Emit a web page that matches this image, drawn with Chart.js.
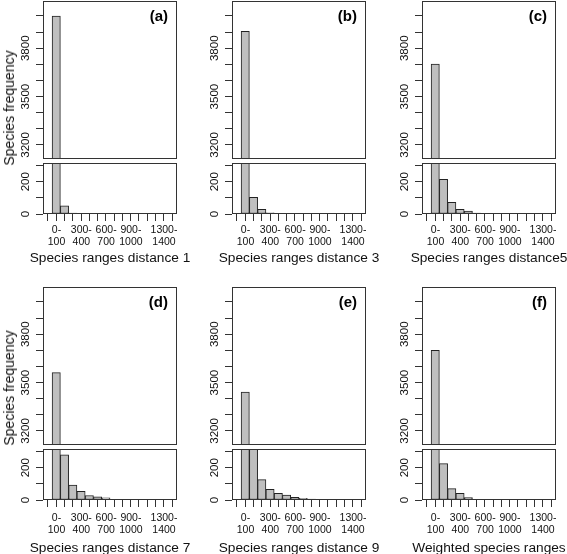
<!DOCTYPE html>
<html>
<head>
<meta charset="utf-8">
<script src="https://cdn.jsdelivr.net/npm/chart.js@4.4.1/dist/chart.umd.min.js"></script>
<style>
  body { margin: 0; background: #fff; width: 567px; height: 554px; position: relative; overflow: hidden;
         font-family: "Liberation Sans", Arial, sans-serif; color: #111; }
  canvas { position: absolute; }
  .ytitle { position: absolute; font-size: 14px; white-space: nowrap;
            transform: translate(-50%, -50%) rotate(-90deg); }
  .xtitle { position: absolute; font-size: 13.7px; white-space: nowrap; transform: translate(-50%, -50%); }
</style>
</head>
<body>
<script>
// histogram bins (width 100), only some bins get a label
const binMids = [50, 150, 250, 350, 450, 550, 650, 750, 850, 950, 1050, 1150, 1250, 1350];
const binEdges = [0, 100, 200, 300, 400, 500, 600, 700, 800, 900, 1000, 1100, 1200, 1300, 1400];
const binLabels = ['0-100', '100-200', '200-300', '300-400', '400-500', '500-600', '600-700',
  '700-800', '800-900', '900-1000', '1000-1100', '1100-1200', '1200-1300', '1300-1400'];
const shownLabels = ['0-100', '300-400', '600-700', '900-1000', '1300-1400'];

// broken y axis: upper and lower part
const upperTicks = [3200, 3300, 3400, 3500, 3600, 3700, 3800, 3900, 4000];
const upperLabels = [3200, 3500, 3800];
const lowerTicks = [0, 100, 200, 300];
const lowerLabels = [0, 200];

// species frequency per bin
const freqA = [4000, 51, 5, 1, 0, 0, 0, 0, 0, 0, 0, 0, 0, 0];
const freqB = [3905, 103, 29, 8, 2, 1, 1, 0, 0, 0, 0, 0, 0, 0];
const freqC = [3701, 215, 72, 29, 18, 6, 2, 1, 0, 0, 0, 0, 0, 0];
const freqD = [3562, 280, 93, 54, 28, 20, 14, 4, 2, 2, 1, 0, 0, 0];
const freqE = [3442, 315, 126, 66, 41, 31, 17, 10, 5, 4, 3, 1, 0, 0];
const freqF = [3700, 225, 70, 41, 15, 4, 1, 0, 0, 0, 0, 0, 0, 0];

const letters = ['(a)', '(b)', '(c)', '(d)', '(e)', '(f)'];
const xTitles = ['Species ranges distance 1', 'Species ranges distance 3', 'Species ranges distance5',
  'Species ranges distance 7', 'Species ranges distance 9', 'Weighted species ranges'];
const yTitle = 'Species frequency';

const FONT = '"Liberation Sans", Arial, sans-serif';
const colLeft = [43, 232, 422];
const boxW = 134;
const upperTop = [1, 287];
const lowerTop = [163, 449];
const upperH = 158, lowerH = 51;
const AXW = 45;
const XAXH = 44;

const boxPlugin = {
  id: 'box',
  afterDatasetsDraw(chart) {
    const a = chart.chartArea, ctx = chart.ctx;
    ctx.save();
    ctx.strokeStyle = '#333';
    ctx.lineWidth = 1;
    ctx.strokeRect(a.left + 0.5, a.top + 0.5, a.right - a.left - 1, a.bottom - a.top - 1);
    ctx.restore();
  }
};

const letterPlugin = {
  id: 'letter',
  afterDraw(chart, args, opts) {
    if (!opts.text) return;
    const a = chart.chartArea, ctx = chart.ctx;
    ctx.save();
    ctx.font = 'bold 15px ' + FONT;
    ctx.fillStyle = '#000';
    ctx.textAlign = 'right';
    ctx.textBaseline = 'middle';
    ctx.fillText(opts.text, a.right - 9, a.top + 16);
    ctx.restore();
  }
};

function addCanvas(left, top, w, h) {
  const c = document.createElement('canvas');
  c.width = w; c.height = h;
  c.style.left = left + 'px'; c.style.top = top + 'px';
  c.style.width = w + 'px'; c.style.height = h + 'px';
  document.body.appendChild(c);
  return c;
}

function addText(cls, text, x, y) {
  const d = document.createElement('div');
  d.className = cls;
  d.textContent = text;
  d.style.left = x + 'px';
  d.style.top = y + 'px';
  document.body.appendChild(d);
}

function makeHist(canvas, values, isUpper, letter, labelPad) {
  const ticks = isUpper ? upperTicks : lowerTicks;
  const labels = isUpper ? upperLabels : lowerLabels;
  return new Chart(canvas, {
    type: 'bar',
    data: {
      datasets: [{
        data: binMids.map((m, i) => ({ x: m, y: values[i] })),
        backgroundColor: '#bfbfbf',
        borderColor: '#222',
        borderWidth: 1,
        borderSkipped: false,
        barPercentage: 1,
        categoryPercentage: 1,
        clip: 0
      }]
    },
    options: {
      responsive: false,
      animation: false,
      devicePixelRatio: 1,
      layout: { padding: { left: 0, right: 4, top: 2, bottom: isUpper ? 2 : 0 } },
      plugins: { legend: { display: false }, tooltip: { enabled: false }, letter: { text: letter } },
      scales: {
        x: {
          type: 'linear',
          min: -56,
          max: 1456,
          display: !isUpper,
          afterBuildTicks: s => { s.ticks = binEdges.map(v => ({ value: v })); },
          afterFit: s => { s.height = isUpper ? 0 : XAXH; s.paddingLeft = 0; s.paddingRight = 0; },
          border: { display: false },
          grid: { drawOnChartArea: false, drawTicks: true, tickLength: 7, color: '#333' },
          ticks: {
            autoSkip: false,
            maxRotation: 0,
            minRotation: 0,
            padding: labelPad,
            labelOffset: 4.4,
            color: '#111',
            font: { family: FONT, size: 10.5, lineHeight: 1.15 },
            callback: (v, i) => {
              const lab = binLabels[i];
              if (!lab || !shownLabels.includes(lab)) return '';
              const p = lab.split('-');
              return [p[0] + '-', p[1]];
            }
          }
        },
        y: {
          min: isUpper ? 3113 : 0,
          max: isUpper ? 4093 : 316,
          afterBuildTicks: s => { s.ticks = ticks.map(v => ({ value: v })); },
          afterFit: s => { s.width = AXW; s.paddingTop = 0; s.paddingBottom = 0; },
          border: { display: false },
          grid: { drawOnChartArea: false, drawTicks: true, tickLength: 7, color: '#333' },
          ticks: {
            autoSkip: false,
            minRotation: 90,
            maxRotation: 90,
            crossAlign: 'center',
            padding: isUpper ? -2.5 : 0.5,
            color: '#111',
            font: { family: FONT, size: 11.5 },
            callback: v => labels.includes(v) ? String(v) : ''
          }
        }
      }
    },
    plugins: [boxPlugin, letterPlugin]
  });
}

const allFreq = [freqA, freqB, freqC, freqD, freqE, freqF];
allFreq.forEach((values, k) => {
  const col = k % 3, row = Math.floor(k / 3);
  const x0 = colLeft[col];
  const up = addCanvas(x0 - AXW, upperTop[row] - 2, AXW + boxW + 4, upperH + 4);
  makeHist(up, values, true, letters[k], 0);
  const lo = addCanvas(x0 - AXW, lowerTop[row] - 2, AXW + boxW + 4, lowerH + 2 + XAXH);
  makeHist(lo, values, false, '', row === 0 ? 3 : 5);
  addText('xtitle', xTitles[k], x0 + boxW / 2, row === 0 ? 257 : 547);
  if (col === 0) addText('ytitle', yTitle, 9, row === 0 ? 107.5 : 388);
});
</script>
</body>
</html>
